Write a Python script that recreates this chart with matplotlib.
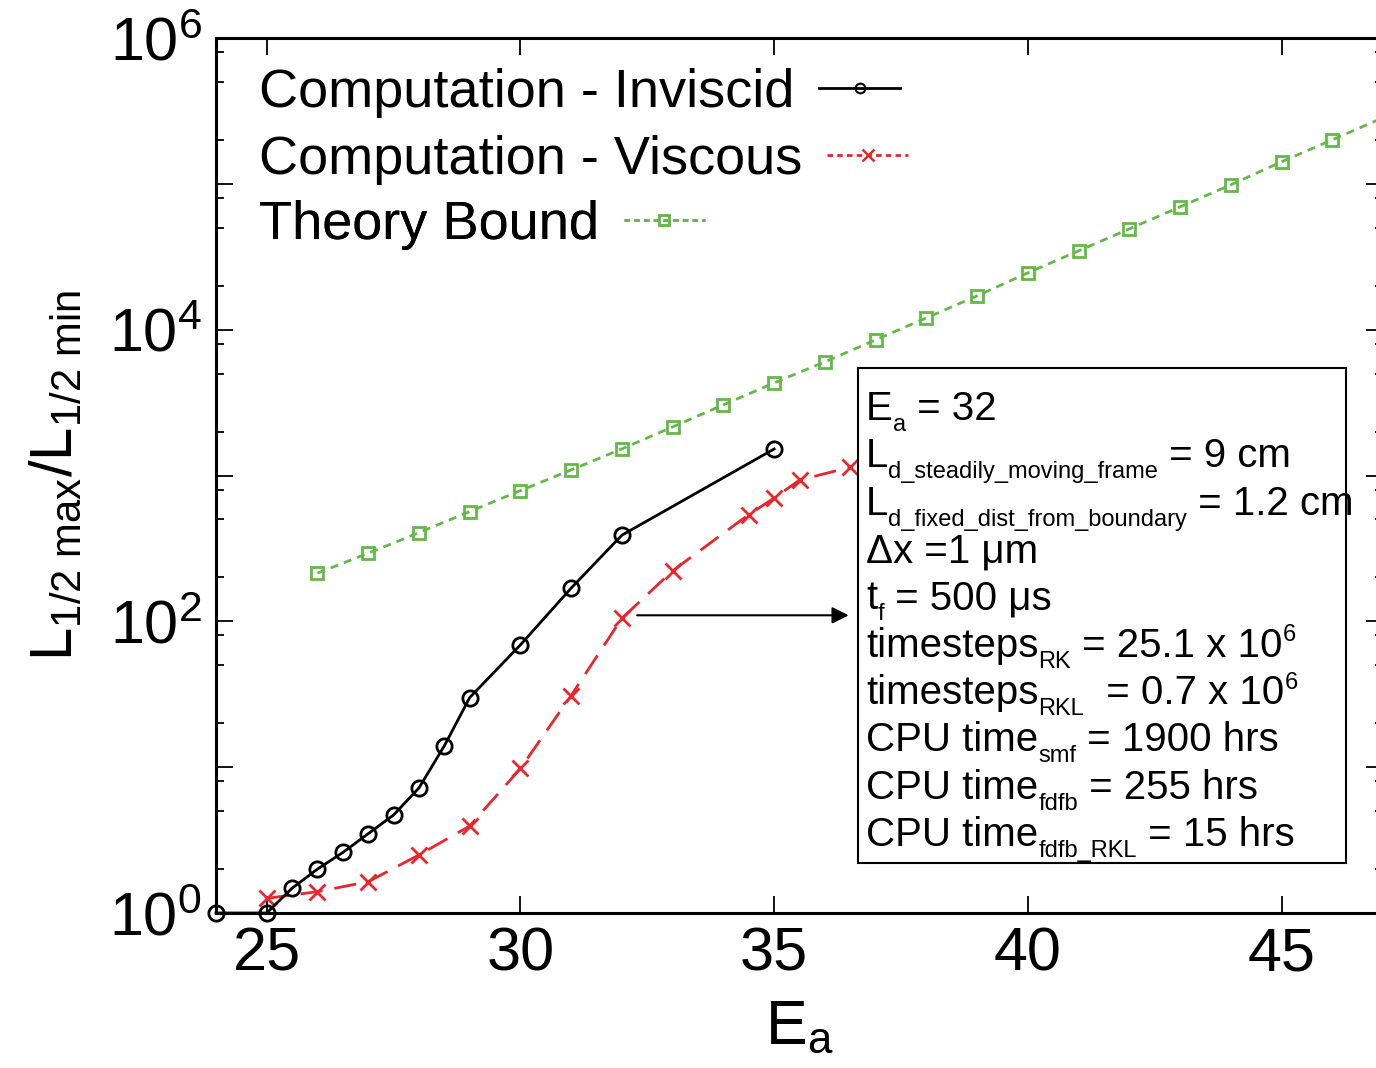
import numpy as np
import matplotlib
matplotlib.use("Agg")
import matplotlib.pyplot as plt
from matplotlib.lines import Line2D
from matplotlib.patches import Rectangle
from matplotlib.ticker import FixedLocator, LogLocator, NullFormatter, FuncFormatter

plt.rcParams['font.family'] = ['Liberation Sans', 'DejaVu Sans']
plt.rcParams['mathtext.fontset'] = 'custom'
plt.rcParams['mathtext.rm'] = 'Liberation Sans'
plt.rcParams['mathtext.it'] = 'Liberation Sans:italic'
plt.rcParams['mathtext.bf'] = 'Liberation Sans:bold'

# data
ea_inviscid = [24, 25, 25.5, 26, 26.5, 27, 27.5, 28, 28.5, 29, 30, 31, 32, 35]
ratio_inviscid = [1, 1, 1.48, 2.0, 2.6, 3.5, 4.7, 7.2, 14, 30, 69, 169, 390, 1520]

ea_viscous = [25, 26, 27, 28, 29, 30, 31, 32, 33, 34.5, 35, 35.5, 36.5]
ratio_viscous = [1.26, 1.40, 1.64, 2.5, 3.95, 9.8, 31, 105, 222, 540, 700, 930, 1140]

ea_theory = list(range(26, 48))
ratio_theory = [214, 293, 406, 566, 788, 1092, 1522, 2154, 3050, 4316, 6013,
                8511, 12050, 17050, 24530, 34700, 49100, 69500, 98400,
                141600, 200400, 284000]

xtick_vals = [25, 30, 35, 40, 45]

# info box lines: (text, 0 normal / -1 subscript / 1 superscript)
info_lines = [
    [('E', 0), ('a', -1), (' = 32', 0)],
    [('L', 0), ('d_steadily_moving_frame', -1), (' = 9 cm', 0)],
    [('L', 0), ('d_fixed_dist_from_boundary', -1), (' = 1.2 cm', 0)],
    [('Δx =1 μm', 0)],
    [('t', 0), ('f', -1), (' = 500 μs', 0)],
    [('timesteps', 0), ('RK', -1), (' = 25.1 x 10', 0), ('6', 1)],
    [('timesteps', 0), ('RKL', -1), ('  = 0.7 x 10', 0), ('6', 1)],
    [('CPU time', 0), ('smf', -1), (' = 1900 hrs', 0)],
    [('CPU time', 0), ('fdfb', -1), (' = 255 hrs', 0)],
    [('CPU time', 0), ('fdfb_RKL', -1), (' = 15 hrs', 0)],
]

red = '#e8262b'
green = '#63b947'

fig = plt.figure(figsize=(13.76, 10.68), dpi=100)
ax = fig.add_axes([216 / 1376, 1 - 913 / 1068, 1167 / 1376, 875 / 1068])

ax.plot(ea_theory, ratio_theory, color=green, lw=2, dashes=(2.9, 2.2),
        marker='s', ms=9, mfc='none', mew=2, zorder=3)
ax.plot(ea_viscous, ratio_viscous, color=red, lw=2, dashes=(8, 4.3),
        marker='x', ms=11, mew=2, zorder=3)
ax.plot(ea_inviscid, ratio_inviscid, color='black', lw=2, marker='o',
        ms=11, mfc='none', mew=2, zorder=4, clip_on=False)

ax.set_yscale('log')
ax.set_xlim(24, 47)
ax.set_ylim(1, 1e6)
ax.set_xticks(xtick_vals)
ax.yaxis.set_major_locator(FixedLocator([10.0 ** k for k in range(7)]))
ax.yaxis.set_minor_locator(LogLocator(base=10, subs=(2, 5, 8), numticks=20))
ax.yaxis.set_minor_formatter(NullFormatter())

def ylab(v, pos):
    k = int(round(np.log10(v)))
    return r'$\mathregular{10^{%d}}$' % k if k % 2 == 0 else ''

ax.yaxis.set_major_formatter(FuncFormatter(ylab))

ax.tick_params(which='both', direction='in', top=True, right=True, width=1.3)
ax.tick_params(which='major', length=12, labelsize=44)
ax.tick_params(which='minor', length=6)
ax.tick_params(axis='x', pad=10)
ax.tick_params(axis='y', pad=10)
for s in ax.spines.values():
    s.set_linewidth(2.2)

ax.set_xlabel(r'$\mathregular{E_a}$', fontsize=45, labelpad=10)
ax.set_ylabel(r'$\mathregular{L_{1/2\ max}/L_{1/2\ min}}$', fontsize=43)
ax.yaxis.set_label_coords(-0.113, 0.5)

# legend: text first, sample right after it
proxies = [
    Line2D([], [], color='black', lw=2, marker='o', ms=7, mfc='none', mew=1.5),
    Line2D([], [], color=red, lw=2, dashes=(2, 1.5), marker='x', ms=8, mew=1.8),
    Line2D([], [], color=green, lw=2, dashes=(2, 1.5), marker='s', ms=7, mfc='none', mew=1.8),
]
names = ['Computation - Inviscid', 'Computation - Viscous', 'Theory Bound']
ycent = [0.937, 0.861, 0.786]
for h, n, yc in zip(proxies, names, ycent):
    leg = ax.legend(handles=[h], labels=[n], loc='center left',
                    bbox_to_anchor=(0.037, yc), frameon=False, markerfirst=False,
                    fontsize=39, handlelength=1.5, handletextpad=0.45,
                    borderpad=0, borderaxespad=0)
    ax.add_artist(leg)

# info box
ax.add_patch(Rectangle((0.550, 0.0571), 0.418, 0.566, transform=ax.transAxes,
                       facecolor='white', edgecolor='black', lw=1.5, zorder=5))
shift = {0: 0, -1: -8, 1: 11}
for i, parts in enumerate(info_lines):
    yb = 0.5634 - i * 0.0541
    prev = None
    for txt, kind in parts:
        size = 29 if kind == 0 else 17
        if prev is None:
            prev = ax.text(0.557, yb, txt, transform=ax.transAxes, fontsize=size,
                           ha='left', va='baseline', zorder=6)
        else:
            prev = ax.annotate(txt, xy=(1, yb), xycoords=(prev, ax.transAxes),
                               xytext=(0, shift[kind]), textcoords='offset points',
                               fontsize=size, ha='left', va='baseline', zorder=6)

ax.annotate('', xy=(36.47, 110), xytext=(32.3, 110),
            arrowprops=dict(arrowstyle='-|>', color='black', lw=1.5,
                            mutation_scale=25, shrinkA=0, shrinkB=0),
            zorder=6)

fig.savefig('out.png', dpi=100)
